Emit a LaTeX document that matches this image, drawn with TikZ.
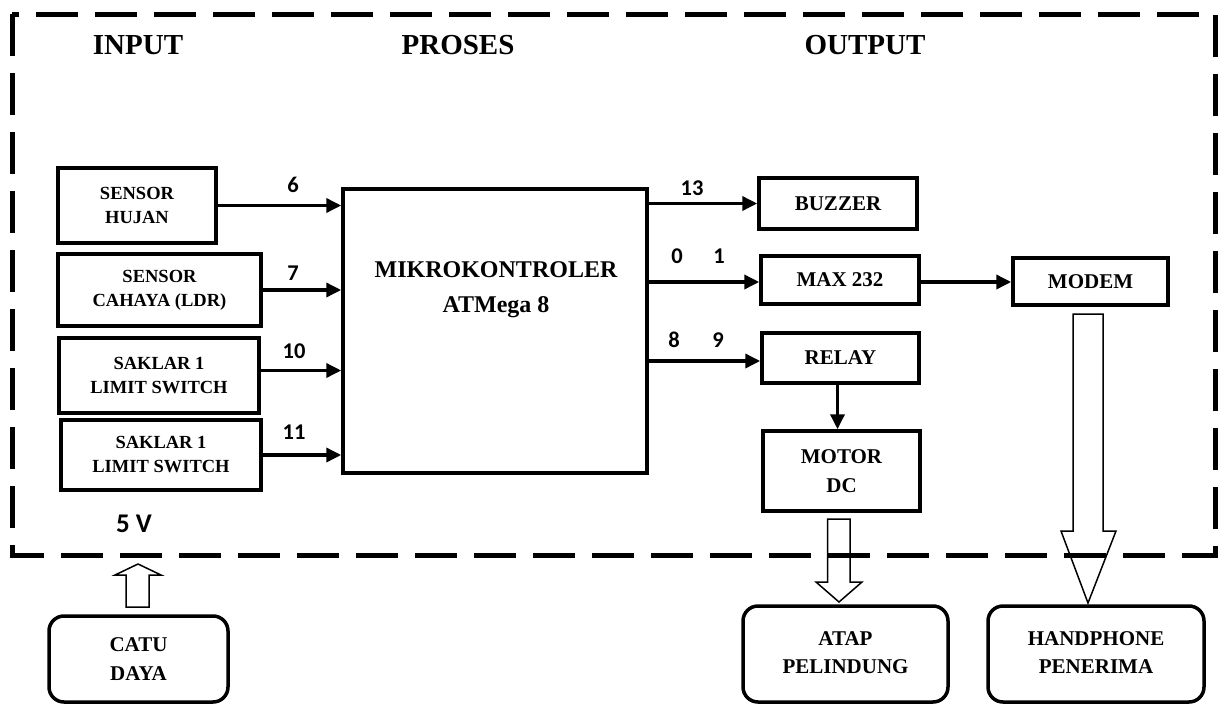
\documentclass[tikz,border=0pt]{standalone}
\usepackage{fontspec}
\setmainfont{Liberation Serif}
\newfontfamily\calib{Carlito}
\usetikzlibrary{arrows.meta,calc}
\begin{document}
\begin{tikzpicture}[x=1pt,y=-1pt,
  box/.style={draw, line width=3.5pt, inner sep=0pt, align=center, font=\bfseries\fontsize{18.5}{24}\selectfont},
  obox/.style={draw, line width=3.5pt, inner sep=0pt, align=center, font=\bfseries\fontsize{21}{29}\selectfont},
  rbox/.style={obox, rounded corners=15pt},
  head/.style={font=\bfseries\fontsize{29}{34}\selectfont},
  num/.style={font=\calib\bfseries\fontsize{22.5}{24}\selectfont, inner sep=0pt},
  conn/.style={line width=3.5pt, -{Triangle[length=15pt,width=14pt]}},
  hollow/.style={draw, line width=1.5pt, fill=white, line join=miter},
  border/.style={line width=5pt, dash pattern=on 42pt off 17pt}]
\useasboundingbox (0,0) rectangle (1224,704);

% headings
\node[head] (hin) at (138,45) {INPUT};
\node[head] (hpr) at (458,45) {PROSES};
\node[head] (hout) at (865,45) {OUTPUT};

% input boxes
\node[box, minimum width=158pt, minimum height=75pt] (s1) at (137,205.5) {SENSOR\\HUJAN};
\node[box, minimum width=203pt, minimum height=72pt] (s2) at (159.5,290) {SENSOR\\CAHAYA (LDR)};
\node[box, minimum width=200pt, minimum height=75pt] (s3) at (159,375.5) {SAKLAR 1\\LIMIT SWITCH};
\node[box, minimum width=200pt, minimum height=70pt] (s4) at (161,455) {SAKLAR 1\\LIMIT SWITCH};

% microcontroller
\node[draw, line width=3.5pt, minimum width=304pt, minimum height=284pt, inner sep=0pt] (mcu) at (495,331) {};
\node[align=center, font=\bfseries\fontsize{24}{35}\selectfont] (mcut) at (496,290) {MIKROKONTROLER\\ATMega 8};

% output boxes
\node[obox, minimum width=158pt, minimum height=51pt] (buz) at (838,203.5) {BUZZER};
\node[obox, minimum width=158pt, minimum height=48pt] (max) at (840,280) {MAX 232};
\node[obox, minimum width=157pt, minimum height=50pt] (rel) at (840.5,358) {RELAY};
\node[obox, minimum width=157pt, minimum height=80pt] (mot) at (841.5,471) {MOTOR\\DC};
\node[obox, minimum width=155pt, minimum height=47pt] (mod) at (1090.5,281.5) {MODEM};

% rounded boxes
\node[rbox, minimum width=179pt, minimum height=86pt] (catu) at (138.5,659) {CATU\\DAYA};
\node[rbox, minimum width=205pt, minimum height=96pt] (atap) at (845.5,654) {\raisebox{4pt}{\begin{tabular}{@{}c@{}}ATAP\\[-1pt]PELINDUNG\end{tabular}}};
\node[rbox, minimum width=216pt, minimum height=96pt] (hp) at (1096,654) {\raisebox{4pt}{\begin{tabular}{@{}c@{}}HANDPHONE\\[-1pt]PENERIMA\end{tabular}}};

% input connectors
\draw[conn] (s1.east) -- (s1.east -| mcu.west);
\draw[conn] (s2.east) -- (s2.east -| mcu.west);
\draw[conn] ($(s3.east)+(0,-5)$) -- ($(s3.east -| mcu.west)+(0,-5)$);
\draw[conn] (s4.east) -- (s4.east -| mcu.west);

% output connectors
\draw[conn] (mcu.east |- buz.west) -- (buz.west);
\draw[conn] ($(mcu.east |- max.west)+(0,2)$) -- ($(max.west)+(0,2)$);
\draw[conn] ($(mcu.east |- rel.west)+(0,3)$) -- ($(rel.west)+(0,3)$);
\draw[conn] ($(rel.south)+(-3,0)$) -- ($(rel.south |- mot.north)+(-3,0)$);
\draw[conn] ($(max.east)+(0,2)$) -- ($(max.east -| mod.west)+(0,2)$);

% pin labels
\node[num] (n6) at (293,185) {6};
\node[num] (n7) at (293,273) {7};
\node[num] (n10) at (294,351) {10};
\node[num] (n11) at (294,432) {11};
\node[num] (n13) at (692,188) {13};
\node[num] (n0) at (677,256) {0};
\node[num] (n1) at (719,256) {1};
\node[num] (n8) at (674,340) {8};
\node[num] (n9) at (718,340) {9};
\node[font=\calib\bfseries\fontsize{27}{30}\selectfont, inner sep=0pt] (v5) at (134,524) {5 V};

% hollow arrows
\draw[hollow] (827.5,519) -- (850,519) -- (850,582) -- (862,582) -- (839,602) -- (816,582) -- (827.5,582) -- cycle;
\draw[hollow] (1073,314) -- (1103,314) -- (1103,531) -- (1116,531) -- (1088,603) -- (1061,531) -- (1073,531) -- cycle;
\draw[hollow] (126,607) -- (149,607) -- (149,575) -- (161,575) -- (138,564) -- (115,575) -- (126,575) -- cycle;

% dashed system border
\draw[border] (12,14) rectangle (1215,555);
\end{tikzpicture}
\end{document}
